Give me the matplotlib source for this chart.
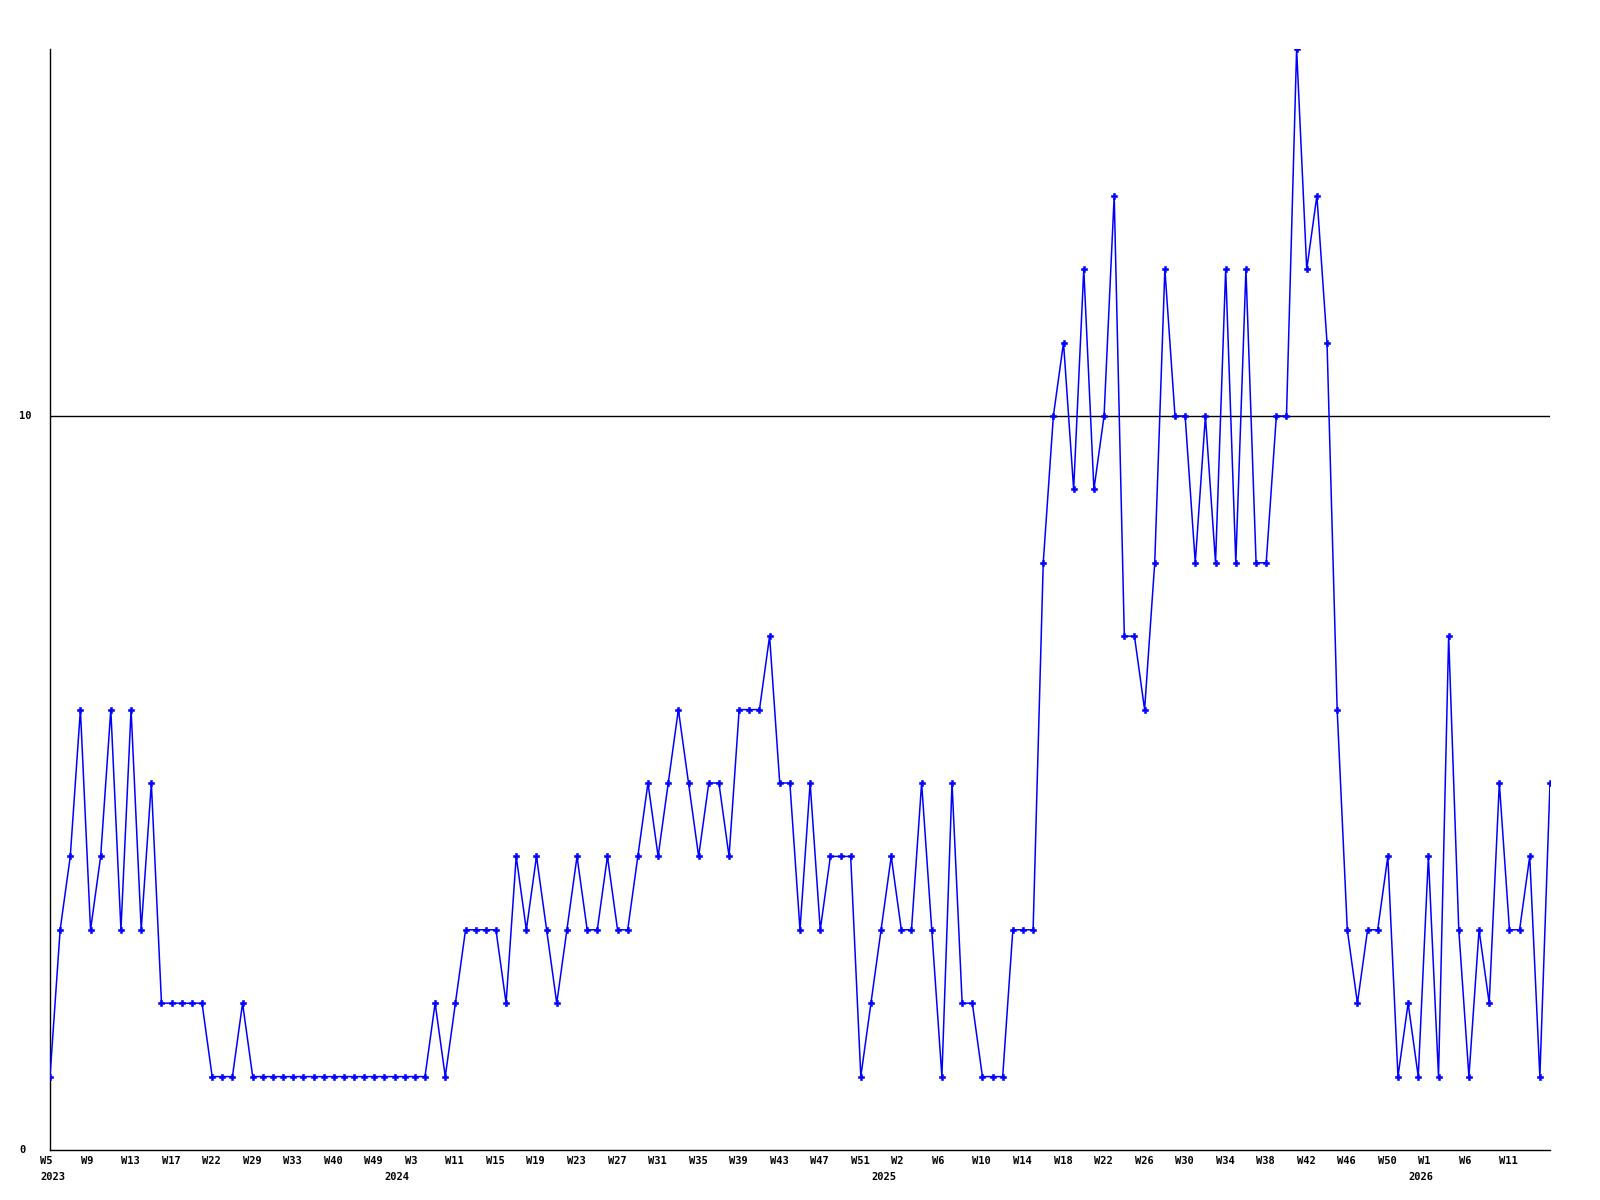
import numpy as np
import matplotlib
matplotlib.use("Agg")
import matplotlib.pyplot as plt
from matplotlib import transforms

# weekly counts, one point per reported week (evenly spaced by index)
counts = [
    1, 3, 4, 6, 3, 4, 6, 3, 6, 3, 5, 2, 2, 2, 2, 2, 1, 1, 1, 2,
    1, 1, 1, 1, 1, 1, 1, 1, 1, 1, 1, 1, 1, 1, 1, 1, 1, 1, 2, 1,
    2, 3, 3, 3, 3, 2, 4, 3, 4, 3, 2, 3, 4, 3, 3, 4, 3, 3, 4, 5,
    4, 5, 6, 5, 4, 5, 5, 4, 6, 6, 6, 7, 5, 5, 3, 5, 3, 4, 4, 4,
    1, 2, 3, 4, 3, 3, 5, 3, 1, 5, 2, 2, 1, 1, 1, 3, 3, 3, 8, 10,
    11, 9, 12, 9, 10, 13, 7, 7, 6, 8, 12, 10, 10, 8, 10, 8, 12, 8, 12, 8,
    8, 10, 10, 15, 12, 13, 11, 6, 3, 2, 3, 3, 4, 1, 2, 1, 4, 1, 7, 3,
    1, 3, 2, 5, 3, 3, 4, 1, 5,
]

# a week label every 4th point
week_labels = [
    "W5", "W9", "W13", "W17", "W22", "W29", "W33", "W40", "W49", "W3",
    "W11", "W15", "W19", "W23", "W27", "W31", "W35", "W39", "W43", "W47",
    "W51", "W2", "W6", "W10", "W14", "W18", "W22", "W26", "W30", "W34",
    "W38", "W42", "W46", "W50", "W1", "W6", "W11",
]
year_labels = ["2023", "2024", "2025", "2026"]
year_index = [0, 34, 82, 135]

y_ticks = [0, 10]

FONT = dict(family="DejaVu Sans Mono", fontweight="bold", fontsize=7.5)

x = np.arange(len(counts))

fig = plt.figure(figsize=(16, 12), dpi=100)
ax = fig.add_axes([50 / 1600, 50 / 1200, 1500 / 1600, 1101 / 1200])

ax.axhline(10, color="black", lw=1.0, zorder=1)
ax.plot(x, counts, color="#0000ff", lw=1.1, marker="P", ms=3.8, mew=0.4,
        mfc="#0000ff", mec="#0000ff", zorder=3)

ax.set_xlim(0, len(counts) - 1)
ax.set_ylim(0, 15)
ax.set_xticks([])
ax.set_yticks([])
for side in ("top", "right"):
    ax.spines[side].set_visible(False)
for side in ("left", "bottom"):
    ax.spines[side].set_color("black")
    ax.spines[side].set_linewidth(1.0)

# y labels, left-aligned near the figure edge
ytr = transforms.blended_transform_factory(fig.transFigure, ax.transData)
for v in y_ticks:
    ax.text(19 / 1600, v, str(v), transform=ytr, ha="left", va="center",
            clip_on=False, **FONT)

# week labels under the axis, left-aligned slightly before each point
for k, lab in enumerate(week_labels):
    ax.annotate(lab, xy=(4 * k, 0), xytext=(-7.2, -8.2),
                textcoords="offset points", ha="left", va="center",
                annotation_clip=False, **FONT)

for i, lab in zip(year_index, year_labels):
    ax.annotate(lab, xy=(i, 0), xytext=(-7.2, -19.6),
                textcoords="offset points", ha="left", va="center",
                annotation_clip=False, **FONT)

fig.savefig("out.png", dpi=100, facecolor="white")
